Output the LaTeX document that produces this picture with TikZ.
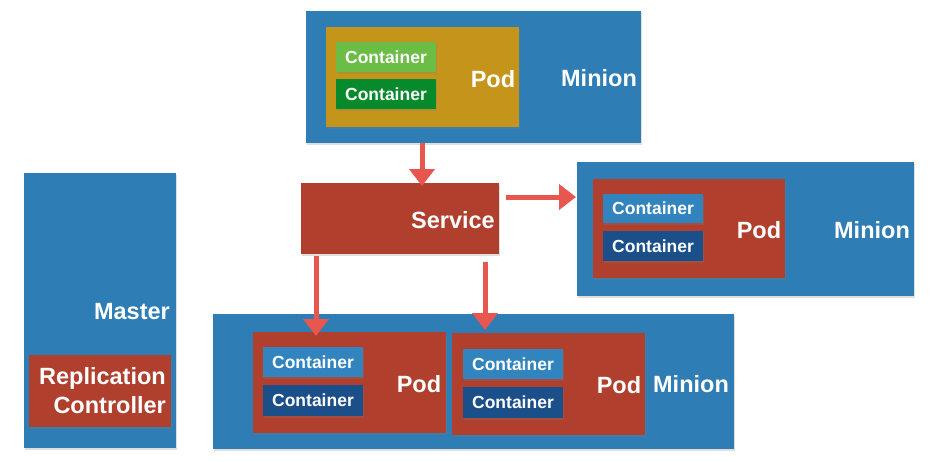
\documentclass[tikz,border=0pt]{standalone}
\usepackage{fontspec}
\setmainfont{Liberation Sans}
\usetikzlibrary{arrows.meta,shadows}
\definecolor{minionblue}{RGB}{46,125,181}
\definecolor{contblue}{RGB}{50,132,190}
\definecolor{contdark}{RGB}{27,79,138}
\definecolor{podred}{RGB}{176,63,46}
\definecolor{podgold}{RGB}{196,149,26}
\definecolor{contlgreen}{RGB}{108,189,69}
\definecolor{contdgreen}{RGB}{7,138,44}
\definecolor{arrred}{RGB}{232,87,79}
\tikzset{
  box/.style={draw=none, inner sep=0pt, outer sep=0pt, anchor=north west,
    drop shadow={opacity=0.25, shadow xshift=1pt, shadow yshift=-1.5pt}},
  bigtxt/.style={text=white, font=\bfseries\fontsize{23.5}{29}\selectfont, inner sep=0pt},
  conttxt/.style={text=white, font=\bfseries\fontsize{17.5}{20}\selectfont},
  arr/.style={draw=arrred, line width=5pt, -{Triangle[width=25pt,length=17pt]}}
}
\newcommand{\boxat}[6]{% name, color, x1, y1, x2, y2
  \node[box, fill=#2, minimum width={(#5-#3)*1pt}, minimum height={(#6-#4)*1pt}] (#1) at (#3,#4) {};}
\newcommand{\contat}[7]{% name, color, x1, y1, x2, y2, text
  \node[box, fill=#2, minimum width={(#5-#3)*1pt}, minimum height={(#6-#4)*1pt}] (#1) at (#3,#4) {};
  \node[conttxt] (#1t) at (#1.center) {#7};}
\begin{document}
\begin{tikzpicture}[x=1pt,y=-1pt]
\useasboundingbox (0,0) rectangle (933,461);
% top minion
\boxat{topm}{minionblue}{306}{11}{641}{143}
\boxat{topp}{podgold}{326}{27}{519}{127}
\contat{tc1}{contlgreen}{336}{42}{436}{72}{Container}
\contat{tc2}{contdgreen}{336}{79}{436}{109}{Container}
\node[bigtxt] (toppl) at (493,79) {Pod};
\node[bigtxt] (topml) at (599,78) {Minion};
% service
\boxat{svc}{podred}{301}{183}{499}{254}
\node[bigtxt, anchor=east] (svcl) at (495,220) {Service};
% right minion
\boxat{rm}{minionblue}{577}{162}{914}{296}
\boxat{rp}{podred}{593}{179}{785}{278}
\contat{rc1}{contblue}{603}{194}{703}{223}{Container}
\contat{rc2}{contdark}{603}{231}{703}{261}{Container}
\node[bigtxt] (rpl) at (759,230) {Pod};
\node[bigtxt] (rml) at (872,230) {Minion};
% master
\boxat{mst}{minionblue}{24}{173}{176}{448}
\node[bigtxt, anchor=east] (mstl) at (170,312) {Master};
\boxat{rcb}{podred}{29}{355}{171}{427}
\node[bigtxt, anchor=east, align=right] (rcl) at (166,391) {Replication\\Controller};
% bottom minion
\boxat{bm}{minionblue}{213}{314}{734}{449}
\boxat{p1}{podred}{253}{332}{446}{433}
\contat{p1c1}{contblue}{263}{347}{363}{377}{Container}
\contat{p1c2}{contdark}{263}{385}{363}{416}{Container}
\node[bigtxt] (p1l) at (419,384) {Pod};
\boxat{p2}{podred}{452}{333}{645}{435}
\contat{p2c1}{contblue}{463}{349}{563}{379}{Container}
\contat{p2c2}{contdark}{463}{387}{563}{418}{Container}
\node[bigtxt] (p2l) at (619,385) {Pod};
\node[bigtxt] (bml) at (691,384) {Minion};
% arrows
\draw[arr] ([xshift=116pt]topm.south west) -- ([xshift=121pt,yshift=-3pt]svc.north west);
\draw[arr] ([xshift=7pt,yshift=-14pt]svc.north east) -- ([xshift=-1pt,yshift=-35pt]rm.north west);
\draw[arr] ([xshift=15pt,yshift=-2pt]svc.south west) -- ([xshift=63pt,yshift=-4pt]p1.north west);
\draw[arr] ([xshift=184pt,yshift=-8pt]svc.south west) -- ([xshift=33pt,yshift=3pt]p2.north west);
\end{tikzpicture}
\end{document}
